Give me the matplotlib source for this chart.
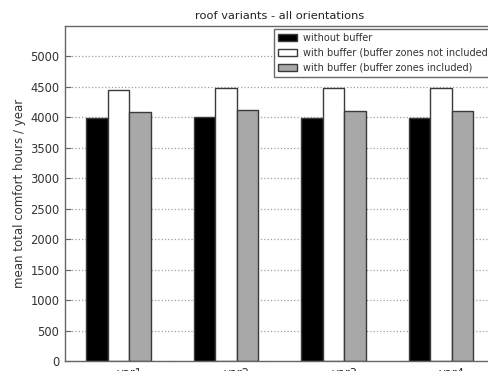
import numpy as np
import matplotlib
matplotlib.use("Agg")
import matplotlib.pyplot as plt

categories = ["var1", "var2", "var3", "var4"]
without_buffer = [3990, 4010, 3995, 3995]
buffer_not_included = [4455, 4490, 4478, 4482]
buffer_included = [4088, 4122, 4106, 4108]
series_labels = ["without buffer",
                 "with buffer (buffer zones not included)",
                 "with buffer (buffer zones included)"]
y_ticks = [0, 500, 1000, 1500, 2000, 2500, 3000, 3500, 4000, 4500, 5000]

W, H = 489, 371
fig = plt.figure(figsize=(W / 100, H / 100), dpi=100)
ax = fig.add_axes([65 / W, 10 / H, 430 / W, 335 / H])

ind = np.arange(len(categories))
width = 0.2
edge = "#3a3a3a"
b1 = ax.bar(ind, without_buffer, width, align="edge", color="black",
            edgecolor=edge, linewidth=1.0, zorder=2)
b2 = ax.bar(ind + width, buffer_not_included, width, align="edge", color="white",
            edgecolor=edge, linewidth=1.0, zorder=2)
b3 = ax.bar(ind + 2 * width, buffer_included, width, align="edge", color="#a8a8a8",
            edgecolor=edge, linewidth=1.0, zorder=2)

ax.set_xlim(-0.2, 3.8)
ax.set_ylim(0, 5500)
ax.set_yticks(y_ticks)
ax.set_xticks(ind + 2 * width)
ax.set_xticklabels(categories)
ax.yaxis.grid(True, linestyle=":", color="#a0a0a0", linewidth=0.9, zorder=0)
ax.set_axisbelow(True)

for s in ax.spines.values():
    s.set_color("#666666")
    s.set_linewidth(1.0)
ax.tick_params(axis="both", direction="in", length=4, color="#666666",
               labelsize=8.3, labelcolor="#333333", pad=4)
ax.tick_params(axis="x", length=0)

ax.set_ylabel("mean total comfort hours / year", fontsize=8.5, color="#333333",
              labelpad=3)
ax.set_title("roof variants - all orientations", fontsize=8.2, color="#222222", pad=5)

leg = fig.legend([b1, b2, b3], series_labels, loc="upper left",
                 bbox_to_anchor=(274 / W, 1 - 29 / H), fontsize=7,
                 frameon=True, fancybox=False, borderpad=0.4, labelspacing=0.5,
                 handlelength=2.0, handleheight=0.7, handletextpad=0.6,
                 borderaxespad=0)
leg.get_frame().set_edgecolor("#444444")
leg.get_frame().set_linewidth(1.0)
for t in leg.get_texts():
    t.set_color("#333333")

fig.savefig("out.png", dpi=100)
